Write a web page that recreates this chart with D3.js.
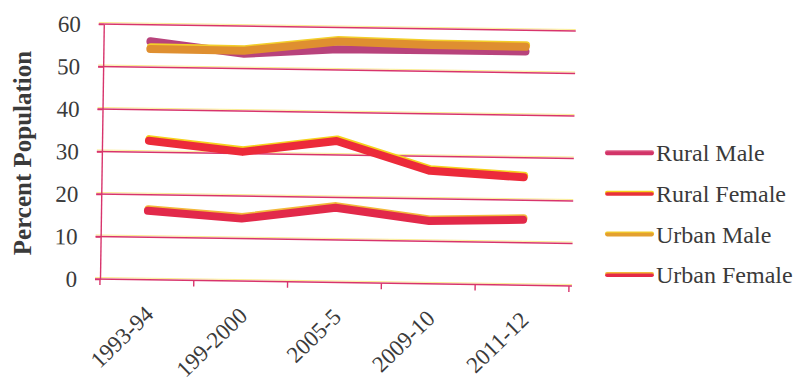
<!DOCTYPE html>
<html>
<head>
<meta charset="utf-8">
<script src="https://cdn.jsdelivr.net/npm/d3@7"></script>
<style>
  html, body { margin: 0; padding: 0; background: #ffffff; }
  svg { display: block; }
</style>
</head>
<body>
<svg id="chart" width="797" height="382"></svg>
<script>
// ---- data ----
const categories = ["1993-94", "199-2000", "2005-5", "2009-10", "2011-12"];
const ruralMale   = [56.1, 53.5, 54.9, 55.0, 55.0];
const ruralFemale = [32.7, 30.4, 33.3, 26.6, 25.4];
const urbanMale   = [54.3, 54.2, 56.7, 56.2, 56.1];
const urbanFemale = [16.2, 14.7, 17.6, 14.8, 15.4];
const seriesNames = ["Rural Male", "Rural Female", "Urban Male", "Urban Female"];
const yTicks = [0, 10, 20, 30, 40, 50, 60];
const yTitle = "Percent Population";

// ---- styling ----
const colors = {
  "Rural Male": "#b8437c",
  "Rural Female": "#ec2a3a",
  "Urban Male": "#df8f30",
  "Urban Female": "#e2294a"
};
const edges = {
  "Rural Male": null,
  "Rural Female": "#f6d21c",
  "Urban Male": "#f3cf2a",
  "Urban Female": "#f3b93a"
};
const legendColors = {
  "Rural Male": "#d23468",
  "Rural Female": "#e8303a",
  "Urban Male": "#e3a030",
  "Urban Female": "#e52a48"
};
const fontFam = "'Liberation Serif', 'Times New Roman', serif";
const gridColor = "#d8346c";
const gridYellow = "#f6dc3c";

const svg = d3.select("#chart");
const plotL = 100, plotR = 569, plotT = 24, plotB = 279;

const x = d3.scalePoint().domain(categories).range([plotL, plotR]).padding(0.5);
const xb = d3.scaleBand().domain(categories).range([plotL, plotR]).padding(0);
const y = d3.scaleLinear().domain([0, 60]).range([plotB, plotT]);

// scanned page is slightly rotated
const g = svg.append("g").attr("transform", `rotate(0.85,${plotL},${plotB})`);

// gridlines
const grid = g.append("g");
yTicks.forEach(t => {
  grid.append("line")
    .attr("x1", plotL - 5).attr("x2", plotR + 3)
    .attr("y1", y(t) - 1.5).attr("y2", y(t) - 1.5)
    .attr("stroke", gridYellow).attr("stroke-width", 0.8).attr("stroke-opacity", 0.7);
  grid.append("line")
    .attr("x1", plotL - 5).attr("x2", plotR + 3)
    .attr("y1", y(t)).attr("y2", y(t))
    .attr("stroke", gridColor).attr("stroke-width", 1.5);
});

// y axis
const yAxis = g.append("g")
  .attr("transform", `translate(${plotL},0)`)
  .call(d3.axisLeft(y).tickValues(yTicks).tickSize(5).tickSizeOuter(0).tickPadding(18).tickFormat(d3.format("d")));
yAxis.select(".domain").attr("stroke", gridColor).attr("stroke-width", 1.4);
yAxis.selectAll(".tick line").attr("stroke", gridColor).attr("stroke-width", 1.5);
yAxis.selectAll(".tick text")
  .attr("font-family", fontFam).attr("font-size", 23).attr("fill", "#3a3a3a")
  .attr("dy", "0.34em");

// x axis ticks at category boundaries
const bounds = categories.map(c => xb(c)).concat([xb(categories[categories.length - 1]) + xb.bandwidth()]);
g.append("g").selectAll("line").data(bounds).join("line")
  .attr("x1", d => d).attr("x2", d => d)
  .attr("y1", plotB).attr("y2", plotB + 6)
  .attr("stroke", gridColor).attr("stroke-width", 1.4);

// x axis labels
const xAxis = g.append("g")
  .attr("transform", `translate(0,${plotB})`)
  .call(d3.axisBottom(x).tickSize(0).tickPadding(0));
xAxis.select(".domain").remove();
xAxis.selectAll(".tick text")
  .attr("font-family", fontFam).attr("font-size", 23).attr("fill", "#3a3a3a")
  .attr("text-anchor", "end")
  .attr("dy", 0).attr("y", 0)
  .attr("transform", "translate(8,36) rotate(-45)");

// y title
svg.append("text")
  .attr("transform", "translate(31,153) rotate(-90)")
  .attr("text-anchor", "middle")
  .attr("font-family", fontFam).attr("font-size", 25).attr("font-weight", "bold")
  .attr("fill", "#3a3a3a")
  .text(yTitle);

// lines
const seriesData = {
  "Rural Male": ruralMale,
  "Rural Female": ruralFemale,
  "Urban Male": urbanMale,
  "Urban Female": urbanFemale
};
const line = d3.line().x((d, i) => x(categories[i])).y(d => y(d));
const linesG = g.append("g");
seriesNames.forEach(name => {
  const vals = seriesData[name];
  if (edges[name]) {
    linesG.append("path")
      .attr("d", line(vals))
      .attr("transform", "translate(0.5,-1.6)")
      .attr("fill", "none").attr("stroke", edges[name])
      .attr("stroke-width", 8).attr("stroke-linecap", "round").attr("stroke-linejoin", "round");
  }
  linesG.append("path")
    .attr("d", line(vals))
    .attr("fill", "none").attr("stroke", colors[name])
    .attr("stroke-width", 8).attr("stroke-linecap", "round").attr("stroke-linejoin", "round");
});

// legend
const legend = svg.append("g");
seriesNames.forEach((name, i) => {
  const ly = 153 + i * 40.6;
  legend.append("line")
    .attr("x1", 607).attr("x2", 652).attr("y1", ly - 0.8).attr("y2", ly - 0.8)
    .attr("stroke", edges[name] || "#e0608a").attr("stroke-width", 4).attr("stroke-linecap", "round");
  legend.append("line")
    .attr("x1", 607).attr("x2", 652).attr("y1", ly + 0.4).attr("y2", ly + 0.4)
    .attr("stroke", legendColors[name]).attr("stroke-width", 3.6).attr("stroke-linecap", "round");
  legend.append("text")
    .attr("x", 656).attr("y", ly).attr("dy", "0.35em")
    .attr("font-family", fontFam).attr("font-size", 24).attr("fill", "#3a3a3a")
    .text(name);
});
</script>
</body>
</html>
